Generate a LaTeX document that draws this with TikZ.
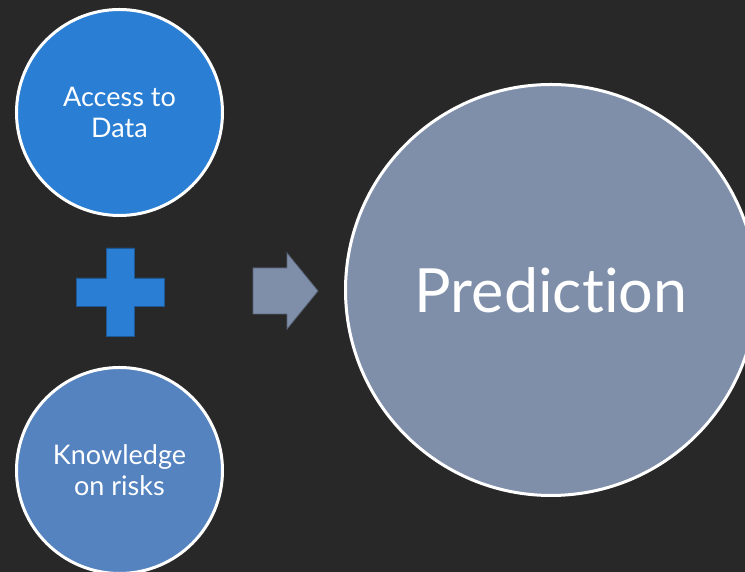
\documentclass[tikz,border=0pt]{standalone}
\usepackage{fontspec}
\setmainfont{Lato}[Ligatures={NoCommon,NoDiscretionary,NoContextual}]
\begin{document}
\begin{tikzpicture}[x=1pt,y=1pt,
  bubble/.style={circle,draw=white,line width=3pt,inner sep=0pt,text=white,align=center},
  glyph/.style={line width=0.8pt,line join=miter}]
\definecolor{bg}{HTML}{282828}
\definecolor{azure}{HTML}{2A7ED4}
\definecolor{steel}{HTML}{5483BF}
\definecolor{slate}{HTML}{7F8FAA}
\fill[bg] (0,0) rectangle (745,572);
\useasboundingbox (0,0) rectangle (745,572);
% input bubbles
\node[bubble,fill=azure,minimum size=206pt,font=\fontsize{27}{31}\selectfont] (data) at (119.5,459.5) {Access to\\Data};
\node[bubble,fill=steel,minimum size=206pt,font=\fontsize{27}{31}\selectfont] (risk) at (119.5,101.5) {Knowledge\\on risks};
% result bubble
\node[bubble,fill=slate,minimum size=411pt,font=\fontsize{61}{65}\selectfont] (pred) at (551,282) {Prediction};
% plus sign
\coordinate (plus) at (120,280);
\fill[azure,draw=azure!70!black,glyph]
  ([shift={(-14,-44)}]plus) -- ++(28,0) -- ++(0,30) -- ++(30,0) -- ++(0,28) -- ++(-30,0)
  -- ++(0,30) -- ++(-28,0) -- ++(0,-30) -- ++(-30,0) -- ++(0,-28) -- ++(30,0) -- cycle;
% arrow
\coordinate (arr) at (253,281);
\fill[slate,draw=slate!70!black,glyph]
  ([shift={(0,-23)}]arr) -- ++(34,0) -- ++(0,-15) -- ++(31,38) -- ++(-31,38) -- ++(0,-15)
  -- ++(-34,0) -- cycle;
\end{tikzpicture}
\end{document}
